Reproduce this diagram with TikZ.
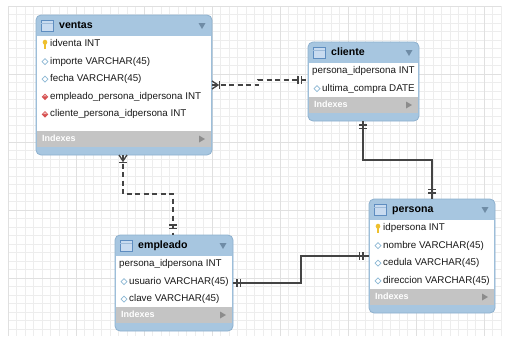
\documentclass[tikz,border=0pt]{standalone}
\usepackage{fontspec}
\setmainfont{Liberation Sans}
\usetikzlibrary{calc}

\definecolor{hdrblue}{HTML}{A7C6E0}
\definecolor{boxedge}{HTML}{8DB0CE}
\definecolor{idxgray}{HTML}{C4C4C4}
\definecolor{linkgray}{HTML}{444444}
\definecolor{gridminor}{HTML}{EDEDED}
\definecolor{gridmajor}{HTML}{E0E0E0}
\definecolor{attrblue}{HTML}{8CB8D4}
\definecolor{fkred}{HTML}{D65050}
\definecolor{keyyellow}{HTML}{EEC02E}
\definecolor{tblicon}{HTML}{5E8DC0}
\definecolor{tbliconfill}{HTML}{C8DBF0}
\definecolor{hdrtri}{HTML}{6F8CA6}

\tikzset{
  tablebox/.style={draw=boxedge, fill=hdrblue, rounded corners=5pt,
    line width=0.8pt, inner sep=0pt, outer sep=0pt},
  rowtext/.style={font=\fontsize{9.8}{11}\selectfont, anchor=west,
    inner sep=0pt, text height=7pt, text depth=2pt, text=black!90},
  titletext/.style={font=\fontsize{10.6}{12}\selectfont\bfseries, anchor=west,
    inner sep=0pt, text height=7.5pt, text depth=2pt},
  idxtext/.style={font=\fontsize{9}{10}\selectfont\bfseries, text=white,
    anchor=west, inner sep=0pt, text height=6.5pt, text depth=1.5pt},
  link/.style={draw=linkgray, line width=1.3pt},
  optlink/.style={link, dash pattern=on 5pt off 3.5pt},
}

% column icons, drawn at the origin; each sets the text offset of its row
\newcommand\icokey{%
  \fill[keyyellow] (0,-1.8) ellipse (2.3 and 2.5);
  \fill[keyyellow] (-0.9,-1) rectangle (0.9,4.5);
  \gdef\txoff{14}}
\newcommand\icoattr{%
  \draw[attrblue, fill=white, line width=0.7pt] (-3,0)--(0,-3)--(3,0)--(0,3)--cycle;
  \gdef\txoff{14}}
\newcommand\icofk{%
  \fill[fkred] (-3.3,0)--(0,-3.3)--(3.3,0)--(0,3.3)--cycle;
  \fill[fkred!40!white] (-1.9,-0.4)--(0,-2.3)--(1.9,-0.4)--cycle;
  \gdef\txoff{14}}
\newcommand\icono{\gdef\txoff{4}}

% \ertable{name}{left}{top}{right}{end of column area}{title}{icon/column list}
\newcommand\ertable[7]{%
  \pgfmathsetmacro\tblw{#4-#2}%
  \pgfmathsetmacro\tblh{#5+24-#3}%
  \node[tablebox, anchor=north west, minimum width=\tblw pt,
        minimum height=\tblh pt] (#1) at (#2,#3) {};
  \fill[white] (#2+0.8,#3+21) rectangle (#4-0.8,#5);
  \fill[idxgray] (#2+0.8,#5) rectangle (#4-0.8,#5+16);
  \node[idxtext] at (#2+6,#5+8) {Indexes};
  \fill[black!45] (#4-13,#5+4.5) -- (#4-13,#5+11.5) -- (#4-7,#5+8) -- cycle;
  \draw[tblicon, fill=tbliconfill, line width=0.7pt] (#2+5,#3+5) rectangle (#2+17,#3+16);
  \draw[tblicon!60, line width=0.4pt] (#2+5,#3+8) -- (#2+17,#3+8);
  \node[titletext] at (#2+23,#3+10.5) {#6};
  \fill[hdrtri] (#4-13.5,#3+8) -- (#4-6.5,#3+8) -- (#4-10,#3+14) -- cycle;
  \foreach \ic/\txt [count=\i] in {#7} {
    \pgfmathsetmacro\rowy{#3+29+(\i-1)*17.6}
    \begin{scope}[shift={(#2+9,\rowy)}]
      \csname ico\ic\endcsname
    \end{scope}
    \node[rowtext] at (#2+\txoff,\rowy) {\txt};
  }
}

\begin{document}
\begin{tikzpicture}[x=1pt, y=-1pt]
  \useasboundingbox (0,0) rectangle (508,340);
  \fill[white] (0,0) rectangle (508,340);

  % drawing grid
  \foreach \g in {0,...,58}
    \draw[gridminor, line width=0.5pt] (8+\g*8.5,6) -- (8+\g*8.5,336);
  \foreach \g in {0,...,38}
    \draw[gridminor, line width=0.5pt] (8,6+\g*8.5) -- (501,6+\g*8.5);
  \foreach \g in {0,8,...,56}
    \draw[gridmajor, line width=0.5pt] (8+\g*8.5,6) -- (8+\g*8.5,336);
  \foreach \g in {0,8,...,38}
    \draw[gridmajor, line width=0.5pt] (8,6+\g*8.5) -- (501,6+\g*8.5);

  % tables
  \ertable{ventas}{36}{15}{212}{131}{ventas}{%
    key/idventa INT,
    attr/importe VARCHAR(45),
    attr/fecha VARCHAR(45),
    fk/empleado\_persona\_idpersona INT,
    fk/cliente\_persona\_idpersona INT}
  \ertable{cliente}{308}{42}{419}{97}{cliente}{%
    no/persona\_idpersona INT,
    attr/ultima\_compra DATE}
  \ertable{empleado}{115}{235}{233}{307}{empleado}{%
    no/persona\_idpersona INT,
    attr/usuario VARCHAR(45),
    attr/clave VARCHAR(45)}
  \ertable{persona}{369}{199}{495}{289}{persona}{%
    key/idpersona INT,
    attr/nombre VARCHAR(45),
    attr/cedula VARCHAR(45),
    attr/direccion VARCHAR(45)}

  % connector end points
  \coordinate (vc-a) at ($(ventas.north east)+(0,70)$);
  \coordinate (vc-b) at ($(cliente.north west)+(0,38)$);
  \coordinate (ve-a) at ($(ventas.south west)+(87,0)$);
  \coordinate (ve-b) at ($(empleado.north west)+(58,0)$);
  \coordinate (cp-a) at ($(cliente.south west)+(55,0)$);
  \coordinate (cp-b) at ($(persona.north west)+(63,0)$);
  \coordinate (ep-a) at ($(empleado.north east)+(0,48)$);
  \coordinate (ep-b) at ($(persona.north west)+(0,57)$);

  % ventas -- cliente (non-identifying)
  \draw[optlink] (vc-a) -- ++(46,0) |- (vc-b);
  \draw[link] ($(vc-a)+(0,-4)$) -- ($(vc-a)+(6,0)$) -- ($(vc-a)+(0,4)$);
  \draw[link] ($(vc-a)+(7.5,-4)$) -- ($(vc-a)+(7.5,4)$);
  \draw[link] ($(vc-b)+(-10,-4)$) -- ($(vc-b)+(-10,4)$);
  \draw[link] ($(vc-b)+(-6.5,-4)$) -- ($(vc-b)+(-6.5,4)$);

  % ventas -- empleado (non-identifying)
  \draw[optlink] (ve-a) -- ++(0,39) -| (ve-b);
  \draw[link] ($(ve-a)+(-4,0)$) -- ($(ve-a)+(0,6)$) -- ($(ve-a)+(4,0)$);
  \draw[link] ($(ve-a)+(-4,7.5)$) -- ($(ve-a)+(4,7.5)$);
  \draw[link] ($(ve-b)+(-4,-10)$) -- ($(ve-b)+(4,-10)$);
  \draw[link] ($(ve-b)+(-4,-6.5)$) -- ($(ve-b)+(4,-6.5)$);

  % cliente -- persona (identifying)
  \draw[link] (cp-a) -- ++(0,39) -| (cp-b);
  \draw[link] ($(cp-a)+(-4,4)$) -- ($(cp-a)+(4,4)$);
  \draw[link] ($(cp-a)+(-4,7.5)$) -- ($(cp-a)+(4,7.5)$);
  \draw[link] ($(cp-b)+(-4,-9.5)$) -- ($(cp-b)+(4,-9.5)$);
  \draw[link] ($(cp-b)+(-4,-6)$) -- ($(cp-b)+(4,-6)$);

  % empleado -- persona (identifying)
  \draw[link] (ep-a) -- ++(68,0) |- (ep-b);
  \draw[link] ($(ep-a)+(4,-4)$) -- ($(ep-a)+(4,4)$);
  \draw[link] ($(ep-a)+(7.5,-4)$) -- ($(ep-a)+(7.5,4)$);
  \draw[link] ($(ep-b)+(-9.5,-4)$) -- ($(ep-b)+(-9.5,4)$);
  \draw[link] ($(ep-b)+(-6,-4)$) -- ($(ep-b)+(-6,4)$);
\end{tikzpicture}
\end{document}
